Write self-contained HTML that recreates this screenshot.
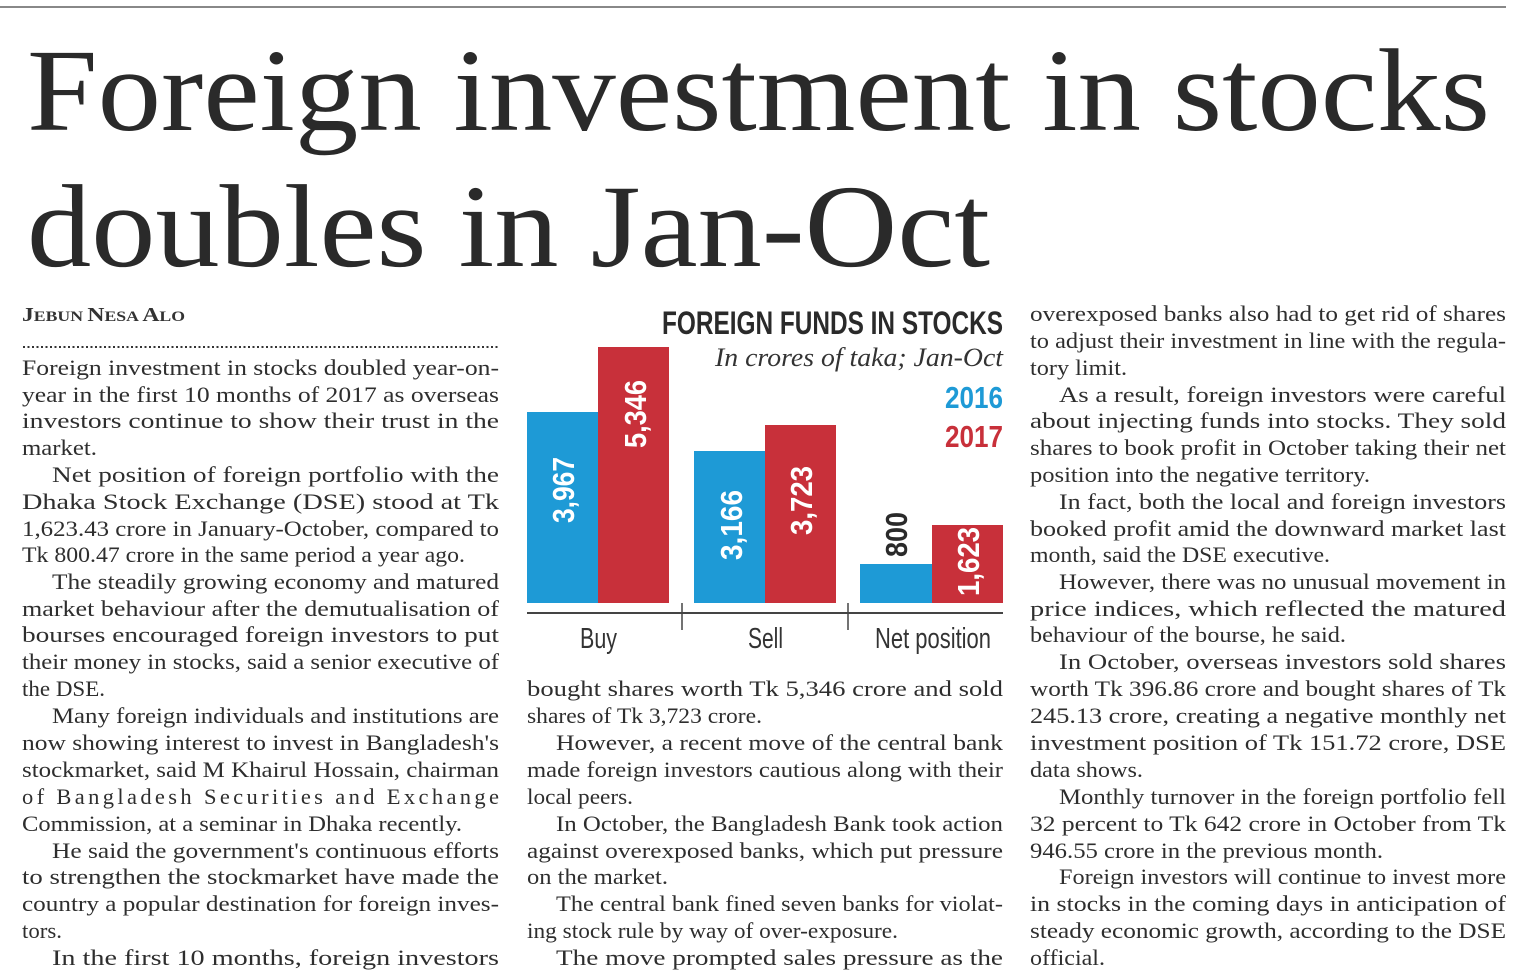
<!DOCTYPE html>
<html><head><meta charset="utf-8"><style>
html,body{margin:0;padding:0;background:#fff;}
svg{display:block;}
.t{font-family:"Liberation Serif",serif;font-size:22.5px;fill:#2e2e2e;}
.h{font-family:"Liberation Serif",serif;font-size:118px;fill:#2a2a2a;}
.c{font-family:"Liberation Sans",sans-serif;font-weight:bold;}
</style></head><body>
<svg width="1522" height="971" viewBox="0 0 1522 971" xmlns="http://www.w3.org/2000/svg">
<rect width="1522" height="971" fill="#fff"/>
<rect x="0" y="6" width="1506" height="2" fill="#888"/>
<text class="h" x="27" y="130" textLength="1463" lengthAdjust="spacingAndGlyphs">Foreign investment in stocks</text>
<text class="h" x="27" y="266" textLength="963" lengthAdjust="spacingAndGlyphs">doubles in Jan-Oct</text>

<text x="22" y="321" font-family="Liberation Serif,serif" font-weight="bold" fill="#333" textLength="163" lengthAdjust="spacingAndGlyphs"><tspan font-size="20">J</tspan><tspan font-size="15">EBUN </tspan><tspan font-size="20">N</tspan><tspan font-size="15">ESA </tspan><tspan font-size="20">A</tspan><tspan font-size="15">LO</tspan></text>
<line x1="23" y1="347" x2="499" y2="347" stroke="#333" stroke-width="2" stroke-dasharray="2,2.5"/>

<g class="t" lengthAdjust="spacingAndGlyphs">
<text x="22" y="375" textLength="477" lengthAdjust="spacingAndGlyphs">Foreign investment in stocks doubled year-on-</text>
<text x="22" y="402" textLength="477" lengthAdjust="spacingAndGlyphs">year in the first 10 months of 2017 as overseas</text>
<text x="22" y="428" textLength="477" lengthAdjust="spacingAndGlyphs">investors continue to show their trust in the</text>
<text x="22" y="455" textLength="75" lengthAdjust="spacingAndGlyphs">market.</text>
<text x="52" y="482" textLength="447" lengthAdjust="spacingAndGlyphs">Net position of foreign portfolio with the</text>
<text x="22" y="509" textLength="477" lengthAdjust="spacingAndGlyphs">Dhaka Stock Exchange (DSE) stood at Tk</text>
<text x="22" y="536" textLength="477" lengthAdjust="spacingAndGlyphs">1,623.43 crore in January-October, compared to</text>
<text x="22" y="562" textLength="443" lengthAdjust="spacingAndGlyphs">Tk 800.47 crore in the same period a year ago.</text>
<text x="52" y="589" textLength="447" lengthAdjust="spacingAndGlyphs">The steadily growing economy and matured</text>
<text x="22" y="616" textLength="477" lengthAdjust="spacingAndGlyphs">market behaviour after the demutualisation of</text>
<text x="22" y="642" textLength="477" lengthAdjust="spacingAndGlyphs">bourses encouraged foreign investors to put</text>
<text x="22" y="669" textLength="477" lengthAdjust="spacingAndGlyphs">their money in stocks, said a senior executive of</text>
<text x="22" y="696" textLength="83" lengthAdjust="spacingAndGlyphs">the DSE.</text>
<text x="52" y="723" textLength="447" lengthAdjust="spacingAndGlyphs">Many foreign individuals and institutions are</text>
<text x="22" y="750" textLength="477" lengthAdjust="spacingAndGlyphs">now showing interest to invest in Bangladesh's</text>
<text x="22" y="777" textLength="477" lengthAdjust="spacingAndGlyphs">stockmarket, said M Khairul Hossain, chairman</text>
<text x="22" y="804" textLength="477" lengthAdjust="spacing">of Bangladesh Securities and Exchange</text>
<text x="22" y="831" textLength="440" lengthAdjust="spacingAndGlyphs">Commission, at a seminar in Dhaka recently.</text>
<text x="52" y="858" textLength="447" lengthAdjust="spacingAndGlyphs">He said the government's continuous efforts</text>
<text x="22" y="884" textLength="477" lengthAdjust="spacingAndGlyphs">to strengthen the stockmarket have made the</text>
<text x="22" y="911" textLength="477" lengthAdjust="spacingAndGlyphs">country a popular destination for foreign inves-</text>
<text x="22" y="938" textLength="40" lengthAdjust="spacingAndGlyphs">tors.</text>
<text x="52" y="965" textLength="447" lengthAdjust="spacingAndGlyphs">In the first 10 months, foreign investors</text>
</g>

<g class="t">
<text x="527" y="696" textLength="476" lengthAdjust="spacingAndGlyphs">bought shares worth Tk 5,346 crore and sold</text>
<text x="527" y="723" textLength="235" lengthAdjust="spacingAndGlyphs">shares of Tk 3,723 crore.</text>
<text x="556" y="750" textLength="447" lengthAdjust="spacingAndGlyphs">However, a recent move of the central bank</text>
<text x="527" y="777" textLength="476" lengthAdjust="spacingAndGlyphs">made foreign investors cautious along with their</text>
<text x="527" y="804" textLength="106" lengthAdjust="spacingAndGlyphs">local peers.</text>
<text x="556" y="831" textLength="447" lengthAdjust="spacingAndGlyphs">In October, the Bangladesh Bank took action</text>
<text x="527" y="858" textLength="476" lengthAdjust="spacingAndGlyphs">against overexposed banks, which put pressure</text>
<text x="527" y="884" textLength="141" lengthAdjust="spacingAndGlyphs">on the market.</text>
<text x="556" y="911" textLength="447" lengthAdjust="spacingAndGlyphs">The central bank fined seven banks for violat-</text>
<text x="527" y="938" textLength="371" lengthAdjust="spacingAndGlyphs">ing stock rule by way of over-exposure.</text>
<text x="556" y="965" textLength="447" lengthAdjust="spacingAndGlyphs">The move prompted sales pressure as the</text>
</g>

<g class="t">
<text x="1030" y="321" textLength="476" lengthAdjust="spacingAndGlyphs">overexposed banks also had to get rid of shares</text>
<text x="1030" y="348" textLength="476" lengthAdjust="spacingAndGlyphs">to adjust their investment in line with the regula-</text>
<text x="1030" y="375" textLength="97" lengthAdjust="spacingAndGlyphs">tory limit.</text>
<text x="1059" y="402" textLength="447" lengthAdjust="spacingAndGlyphs">As a result, foreign investors were careful</text>
<text x="1030" y="428" textLength="476" lengthAdjust="spacingAndGlyphs">about injecting funds into stocks. They sold</text>
<text x="1030" y="455" textLength="476" lengthAdjust="spacingAndGlyphs">shares to book profit in October taking their net</text>
<text x="1030" y="482" textLength="340" lengthAdjust="spacingAndGlyphs">position into the negative territory.</text>
<text x="1059" y="509" textLength="447" lengthAdjust="spacingAndGlyphs">In fact, both the local and foreign investors</text>
<text x="1030" y="536" textLength="476" lengthAdjust="spacingAndGlyphs">booked profit amid the downward market last</text>
<text x="1030" y="562" textLength="300" lengthAdjust="spacingAndGlyphs">month, said the DSE executive.</text>
<text x="1059" y="589" textLength="447" lengthAdjust="spacingAndGlyphs">However, there was no unusual movement in</text>
<text x="1030" y="616" textLength="476" lengthAdjust="spacingAndGlyphs">price indices, which reflected the matured</text>
<text x="1030" y="642" textLength="316" lengthAdjust="spacingAndGlyphs">behaviour of the bourse, he said.</text>
<text x="1059" y="669" textLength="447" lengthAdjust="spacingAndGlyphs">In October, overseas investors sold shares</text>
<text x="1030" y="696" textLength="476" lengthAdjust="spacingAndGlyphs">worth Tk 396.86 crore and bought shares of Tk</text>
<text x="1030" y="723" textLength="476" lengthAdjust="spacingAndGlyphs">245.13 crore, creating a negative monthly net</text>
<text x="1030" y="750" textLength="476" lengthAdjust="spacingAndGlyphs">investment position of Tk 151.72 crore, DSE</text>
<text x="1030" y="777" textLength="113" lengthAdjust="spacingAndGlyphs">data shows.</text>
<text x="1059" y="804" textLength="447" lengthAdjust="spacingAndGlyphs">Monthly turnover in the foreign portfolio fell</text>
<text x="1030" y="831" textLength="476" lengthAdjust="spacingAndGlyphs">32 percent to Tk 642 crore in October from Tk</text>
<text x="1030" y="858" textLength="353" lengthAdjust="spacingAndGlyphs">946.55 crore in the previous month.</text>
<text x="1059" y="884" textLength="447" lengthAdjust="spacingAndGlyphs">Foreign investors will continue to invest more</text>
<text x="1030" y="911" textLength="476" lengthAdjust="spacingAndGlyphs">in stocks in the coming days in anticipation of</text>
<text x="1030" y="938" textLength="476" lengthAdjust="spacingAndGlyphs">steady economic growth, according to the DSE</text>
<text x="1030" y="965" textLength="75" lengthAdjust="spacingAndGlyphs">official.</text>
</g>

<text class="c" x="662" y="334" font-size="32" fill="#2a2a2a" textLength="341" lengthAdjust="spacingAndGlyphs">FOREIGN FUNDS IN STOCKS</text>
<text x="715" y="366" font-family="Liberation Serif,serif" font-style="italic" font-size="26" fill="#333" textLength="288" lengthAdjust="spacingAndGlyphs">In crores of taka; Jan-Oct</text>
<text class="c" x="945" y="408" font-size="31" fill="#1e9ad6" textLength="58" lengthAdjust="spacingAndGlyphs">2016</text>
<text class="c" x="945" y="447" font-size="31" fill="#c8303a" textLength="58" lengthAdjust="spacingAndGlyphs">2017</text>

<rect x="527" y="412" width="71" height="191" fill="#1e9ad6"/>
<rect x="598" y="347" width="71" height="256" fill="#c8303a"/>
<rect x="694" y="451" width="71" height="152" fill="#1e9ad6"/>
<rect x="765" y="425" width="71" height="178" fill="#c8303a"/>
<rect x="860" y="564" width="72" height="39" fill="#1e9ad6"/>
<rect x="932" y="525" width="71" height="78" fill="#c8303a"/>

<line x1="527" y1="613" x2="1003" y2="613" stroke="#444" stroke-width="2"/>
<line x1="682" y1="603" x2="682" y2="630" stroke="#444" stroke-width="1.5"/>
<line x1="848" y1="603" x2="848" y2="630" stroke="#444" stroke-width="1.5"/>

<g class="c" font-size="31">
<text transform="translate(574,523) rotate(-90)" fill="#fff" textLength="66" lengthAdjust="spacingAndGlyphs">3,967</text>
<text transform="translate(646,448) rotate(-90)" fill="#fff" textLength="68" lengthAdjust="spacingAndGlyphs">5,346</text>
<text transform="translate(742,560) rotate(-90)" fill="#fff" textLength="70" lengthAdjust="spacingAndGlyphs">3,166</text>
<text transform="translate(812,535) rotate(-90)" fill="#fff" textLength="69" lengthAdjust="spacingAndGlyphs">3,723</text>
<text transform="translate(907,557) rotate(-90)" fill="#2a2a2a" textLength="45" lengthAdjust="spacingAndGlyphs">800</text>
<text transform="translate(979,596) rotate(-90)" fill="#fff" textLength="69" lengthAdjust="spacingAndGlyphs">1,623</text>
</g>

<g font-family="Liberation Sans,sans-serif" font-size="29" fill="#333">
<text x="580" y="648" textLength="37" lengthAdjust="spacingAndGlyphs">Buy</text>
<text x="748" y="648" textLength="35" lengthAdjust="spacingAndGlyphs">Sell</text>
<text x="875" y="648" textLength="116" lengthAdjust="spacingAndGlyphs">Net position</text>
</g>
</svg>
</body></html>
